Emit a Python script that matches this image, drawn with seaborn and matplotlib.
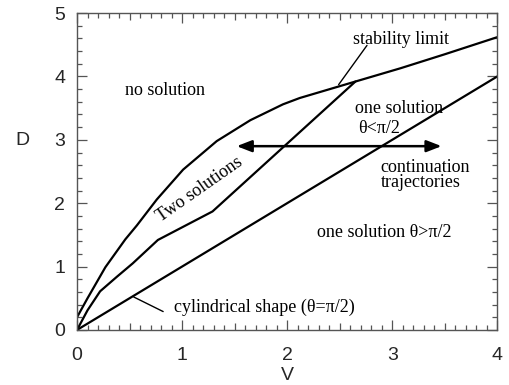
import matplotlib
matplotlib.use("Agg")
import matplotlib.pyplot as plt
import seaborn as sns
import pandas as pd
import numpy as np
from matplotlib.ticker import MultipleLocator, FuncFormatter

sns.set_style("ticks")
plt.rcParams['font.family'] = ['Liberation Sans', 'DejaVu Sans']

# upper boundary of the two-solution region
upper_V = [0.0, 0.1, 0.27, 0.46, 0.57, 0.76, 1.01, 1.33, 1.65, 1.96, 2.12, 2.65, 3.08, 3.50, 4.0]
upper_D = [0.2, 0.5, 0.99, 1.43, 1.65, 2.06, 2.53, 2.98, 3.31, 3.56, 3.66, 3.92, 4.13, 4.35, 4.62]
# middle curve (lower boundary of two solutions, stability limit branch)
mid_V = [0.0, 0.1, 0.22, 0.38, 0.53, 0.77, 1.29, 2.65]
mid_D = [0.0, 0.31, 0.61, 0.84, 1.05, 1.42, 1.87, 3.92]
# cylindrical shape line
cyl_V = [0.0, 1.0, 2.0, 3.0, 4.0]
cyl_D = [0.0, 1.0, 2.0, 3.0, 4.0]

x_ticks = [0, 1, 2, 3, 4]
y_ticks = [0, 1, 2, 3, 4, 5]

fig = plt.figure(figsize=(5.1, 3.85), dpi=100)
ax = fig.add_axes([0.151, 0.143, 0.824, 0.823])

for V, D in [(upper_V, upper_D), (mid_V, mid_D), (cyl_V, cyl_D)]:
    df = pd.DataFrame({"V": V, "D": D})
    sns.lineplot(data=df, x="V", y="D", ax=ax, color="black", lw=1.6,
                 sort=False, estimator=None)

ax.set_xlim(0, 4)
ax.set_ylim(0, 5)

ax.xaxis.set_major_locator(MultipleLocator(0.5))
ax.xaxis.set_minor_locator(MultipleLocator(0.1))
ax.yaxis.set_major_locator(MultipleLocator(1))
ax.yaxis.set_minor_locator(MultipleLocator(0.2))
ax.xaxis.set_major_formatter(FuncFormatter(lambda v, p: f"{int(round(v))}" if abs(v - round(v)) < 1e-6 else ""))
ax.yaxis.set_major_formatter(FuncFormatter(lambda v, p: f"{int(round(v))}"))

ax.tick_params(which="both", direction="in", top=True, right=True, color="#555555", width=0.9)
ax.tick_params(axis="x", which="major", length=7.2, labelsize=14, pad=12)
ax.tick_params(axis="y", which="major", length=7.2, labelsize=14, pad=8.5)
ax.tick_params(which="minor", length=3.8)
for sp in ax.spines.values():
    sp.set_color("#555555")
    sp.set_linewidth(1.0)

fig.canvas.draw()
for t in ax.xaxis.get_major_ticks():
    loc = t.get_loc()
    if abs(loc - round(loc)) > 1e-6:
        t.tick1line.set_markersize(5.2)
        t.tick2line.set_markersize(5.2)

ax.set_xlabel("V", fontsize=14)
ax.set_ylabel("D", fontsize=14, rotation=0)
ax.xaxis.set_label_coords(0.5, -0.118)
ax.yaxis.set_label_coords(-0.13, 0.57)

serif = dict(family=['Liberation Serif', 'DejaVu Serif'], fontsize=13, color="black")

ax.text(0.84, 3.78, "no solution", ha="center", va="center", **serif)
ax.text(3.08, 4.58, "stability limit", ha="center", va="center", **serif)
ax.plot([2.49, 2.76], [3.87, 4.49], color="black", lw=1.0)
ax.text(2.65, 3.5, "one solution", ha="left", va="center", **serif)
ax.text(2.68, 3.18, "θ<π/2", ha="left", va="center", **serif)
ax.text(2.89, 2.45, "continuation\ntrajectories", ha="left", va="center",
        linespacing=0.85, **serif)
ax.text(2.28, 1.54, "one solution θ>π/2", ha="left", va="center", **serif)
ax.text(0.92, 0.36, "cylindrical shape (θ=π/2)", ha="left", va="center", **serif)
ax.plot([0.54, 0.82], [0.52, 0.29], color="black", lw=1.0)
ax.text(1.17, 2.22, "Two solutions", ha="center", va="center", rotation=35,
        rotation_mode="anchor", **serif)

ax.annotate("", xy=(1.52, 2.9), xytext=(3.47, 2.9),
            arrowprops=dict(arrowstyle="<|-|>,head_length=0.9,head_width=0.35",
                            color="black", lw=1.8, shrinkA=0, shrinkB=0))

fig.savefig("out.png", dpi=100)
